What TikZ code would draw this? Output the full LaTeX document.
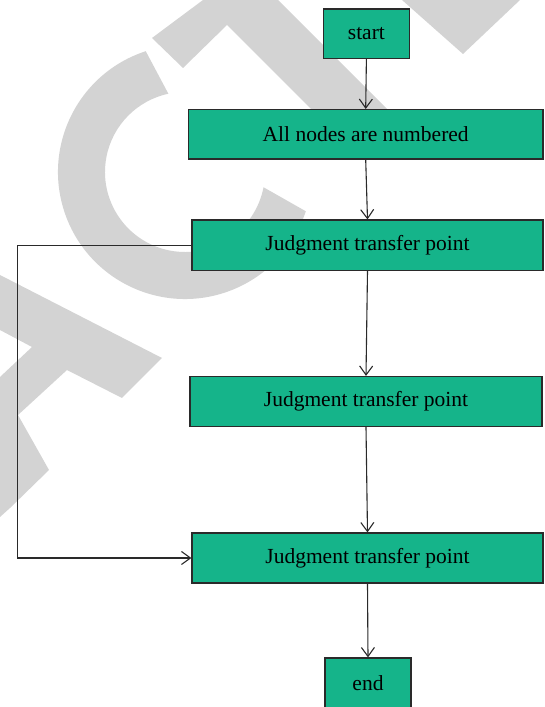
\documentclass[tikz,border=0pt]{standalone}
\usepackage{fontspec}
\setmainfont{Liberation Serif}
\usetikzlibrary{arrows.meta}
\definecolor{boxfill}{HTML}{15B48A}
\definecolor{boxline}{HTML}{2A2A2A}
\definecolor{wmgrey}{HTML}{D3D3D3}
\begin{document}
\begin{tikzpicture}[x=1pt,y=1pt,
  flowbox/.style={draw=boxline, fill=boxfill, line width=1.2pt, inner sep=0pt,
    text=black, font=\fontsize{21.5}{24}\selectfont},
  link/.style={draw=boxline, line width=1.1pt,
    -{Straight Barb[length=9pt,width=13pt,line width=1.1pt]}}]
\useasboundingbox (0,0) rectangle (544,707);
% watermark letters
\fill[wmgrey] (203,707) -- (152,669) -- (183,639) -- (227,682) -- (332,577) -- (408,577) -- (278,707) -- cycle;
\fill[wmgrey] (402,707) -- (463,653) -- (520,707) -- cycle;
\fill[wmgrey] ([shift={(185,535)}]108:127) arc[start angle=108,end angle=342,radius=127]
  -- ([shift={(185,535)}]349:80) arc[start angle=349,end angle=102,radius=80] -- cycle;
\fill[wmgrey] (0,432) -- (162,349) -- (122,309) -- (67,337) -- (18,292) -- (49,237) -- (10,199) -- (0,190)
  -- (0,330) -- (32,360) -- (0,377) -- cycle;
% boxes
\node[flowbox, minimum width=86pt, minimum height=49.6pt] (start) at (366.4,673.2) {start};
\node[flowbox, minimum width=354.6pt, minimum height=49.4pt] (all) at (365.7,572.7) {All nodes are numbered};
\node[flowbox, minimum width=351pt, minimum height=50.5pt] (j1) at (367.5,461.7) {Judgment transfer point};
\node[flowbox, minimum width=352pt, minimum height=50pt] (j2) at (366,305.5) {Judgment transfer point};
\node[flowbox, minimum width=351pt, minimum height=50pt] (j3) at (367.5,149) {Judgment transfer point};
\node[flowbox, minimum width=86pt, minimum height=50pt] (end) at (368,24) {end};
% connectors
\draw[link] (start.south) -- (all.north);
\draw[link] (all.south) -- (j1.north);
\draw[link] (j1.south) -- (j2.north);
\draw[link] (j2.south) -- (j3.north);
\draw[link] (j3.south) -- (end.north);
\coordinate (loopx) at (17.3,0);
\draw[link] (j1.west) -- (j1.west -| loopx) |- (j3.west);
\end{tikzpicture}
\end{document}
